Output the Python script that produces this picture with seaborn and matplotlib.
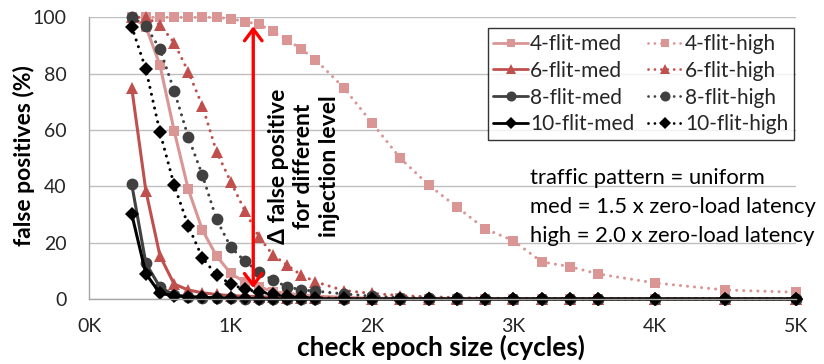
import matplotlib
matplotlib.use("Agg")
import matplotlib.pyplot as plt
from matplotlib.lines import Line2D
import seaborn as sns
import pandas as pd

# ---------------- data ----------------
epoch = [300, 400, 500, 600, 700, 800, 900, 1000, 1100, 1200, 1300, 1400, 1500, 1600,
         1800, 2000, 2200, 2400, 2600, 2800, 3000, 3200, 3400, 3600, 4000, 4500, 5000]

f4_med = [100, 96.7, 83, 59.8, 39, 24.5, 15.3, 9.1, 6, 4.4, 2.6, 2, 1.5, 1,
          0.6, 0.3, 0.2, 0.1, 0, 0, 0, 0, 0, 0, 0, 0, 0]
f4_high = [100, 100, 100, 100, 100, 100, 100, 99.5, 98.5, 97.5, 95, 92, 88.7, 85,
           75, 62.5, 50, 40.5, 32.7, 24.9, 20.7, 13.2, 11.5, 8.9, 5.7, 3.2, 2.4]
f6_med = [75, 38.5, 15.3, 5.3, 3.2, 2.2, 1.6, 1.2, 1, 0.8, 0.6, 0.5, 0.4, 0.3,
          0.2, 0.1, 0, 0, 0, 0, 0, 0, 0, 0, 0, 0, 0]
f6_high = [100, 100, 97.3, 91, 80.7, 68.6, 52.3, 41.7, 31.4, 22, 15.6, 12, 8.5, 6.1,
           3, 2, 1.2, 0.8, 0.5, 0.3, 0.2, 0.1, 0, 0, 0, 0, 0]
f8_med = [40.8, 12.7, 4.2, 1.4, 0.8, 0.5, 0.3, 0.2, 0.1, 0, 0, 0, 0, 0,
          0, 0, 0, 0, 0, 0, 0, 0, 0, 0, 0, 0, 0]
f8_high = [100, 97, 88.7, 74, 57.5, 44, 28.3, 18.5, 13.4, 9.7, 6.6, 4.4, 3.2, 2.8,
           1.8, 1, 0.5, 0.3, 0.2, 0.1, 0, 0, 0, 0, 0, 0, 0]
f10_med = [30.2, 9, 2, 1.2, 0.8, 0.6, 0.4, 0.3, 0.2, 0.1, 0, 0, 0, 0,
           0, 0, 0, 0, 0, 0, 0, 0, 0, 0, 0, 0, 0]
f10_high = [96.7, 81.6, 59.2, 40.5, 26, 14.6, 8.5, 5.3, 3.4, 2.6, 1.6, 1, 0.6, 0.4,
            0.2, 0.1, 0, 0, 0, 0, 0, 0, 0, 0, 0, 0, 0]

x_ticks = [0, 1000, 2000, 3000, 4000, 5000]
x_tick_labels = ["0K", "1K", "2K", "3K", "4K", "5K"]
y_ticks = [0, 20, 40, 60, 80, 100]

# ---------------- style ----------------
sns.set_style("white")
plt.rcParams["font.family"] = ["Lato", "DejaVu Sans"]

C4, C6, C8, C10 = "#D99694", "#C0504D", "#404040", "#000000"
DOT = (0, (0.01, 2.3))

series = [
    ("4-flit-med", f4_med, C4, "s", 7.6, "-"),
    ("4-flit-high", f4_high, C4, "s", 7.6, DOT),
    ("6-flit-med", f6_med, C6, "^", 8.4, "-"),
    ("6-flit-high", f6_high, C6, "^", 8.4, DOT),
    ("8-flit-med", f8_med, C8, "o", 8.5, "-"),
    ("8-flit-high", f8_high, C8, "o", 8.5, DOT),
    ("10-flit-med", f10_med, C10, "D", 6.9, "-"),
    ("10-flit-high", f10_high, C10, "D", 6.9, DOT),
]

W, H = 824, 364
fig = plt.figure(figsize=(W / 100, H / 100), dpi=100)
ax = fig.add_axes([89.3 / W, 1 - 299 / H, (796 - 89.3) / W, (299 - 17.3) / H])

handles = {}
for name, vals, col, mk, ms, ls in series:
    df = pd.DataFrame({"epoch": epoch, "fp": vals})
    sns.lineplot(data=df, x="epoch", y="fp", ax=ax, color=col, marker=mk,
                 markersize=ms, markeredgewidth=0, linestyle=ls,
                 linewidth=2.2, dash_capstyle="round", legend=False,
                 estimator=None, sort=False, clip_on=False)
    handles[name] = Line2D([0], [0], color=col, marker=mk, markersize=ms * 0.85,
                           markeredgewidth=0, linestyle=ls, linewidth=2.0,
                           dash_capstyle="round")

ax.set_xlim(0, 5000)
ax.set_ylim(0, 100)
ax.set_xticks(x_ticks)
ax.set_xticklabels(x_tick_labels)
ax.set_yticks(y_ticks)

ax.grid(axis="y", color="#BFBFBF", linewidth=1.0)
ax.grid(axis="x", visible=False)
for s in ["top", "right"]:
    ax.spines[s].set_visible(False)
for s in ["left", "bottom"]:
    ax.spines[s].set_color("#A6A6A6")
    ax.spines[s].set_linewidth(1.0)
ax.tick_params(axis="both", which="both", direction="out", length=5.5, width=1,
               color="#A6A6A6", labelsize=14, labelcolor="#262626")
ax.tick_params(axis="y", pad=11)
ax.tick_params(axis="x", pad=8)

ax.set_xlabel("check epoch size (cycles)", fontsize=18.8, fontweight="bold", color="#000000")
ax.set_ylabel("false positives (%)", fontsize=16.5, fontweight="bold", color="#000000")
ax.xaxis.label.set_va("baseline")
ax.xaxis.set_label_coords(0.498, -0.2)
ax.yaxis.set_label_coords(-0.077, 0.51)

# legend (column-major order for 2 columns)
order = ["4-flit-med", "6-flit-med", "8-flit-med", "10-flit-med",
         "4-flit-high", "6-flit-high", "8-flit-high", "10-flit-high"]
leg = ax.legend([handles[n] for n in order], order, ncol=2, loc="upper right",
                bbox_to_anchor=(794 / W, 1 - 28 / H), bbox_transform=fig.transFigure,
                fontsize=15, frameon=True, fancybox=False, handlelength=1.65,
                handletextpad=0.12, columnspacing=0.65, labelspacing=0.33,
                borderpad=0.28, borderaxespad=0)
leg.get_frame().set_edgecolor("#000000")
leg.get_frame().set_linewidth(1.0)

# annotation arrow
ax.annotate("", xy=(1160, 3.9), xytext=(1160, 96.8),
            arrowprops=dict(arrowstyle="<->,head_length=0.6,head_width=0.45",
                            mutation_scale=14, color="#FF0000", lw=2.4,
                            shrinkA=0, shrinkB=0))

fig.text(304 / W, 1 - 166 / H, "\u0394 false positive\nfor different\ninjection level",
         rotation=90, ha="center", va="center", multialignment="center",
         fontsize=16.5, fontweight="bold", linespacing=1.28, color="#000000")

fig.text(530 / W, 1 - 178 / H, "traffic pattern = uniform", ha="left", va="center",
         fontsize=15.8, color="#000000")
fig.text(530 / W, 1 - 207 / H, "med = 1.5 x zero-load latency", ha="left", va="center",
         fontsize=15.8, color="#000000")
fig.text(530 / W, 1 - 236 / H, "high = 2.0 x zero-load latency", ha="left", va="center",
         fontsize=15.8, color="#000000")

fig.savefig("out.png", dpi=100)
